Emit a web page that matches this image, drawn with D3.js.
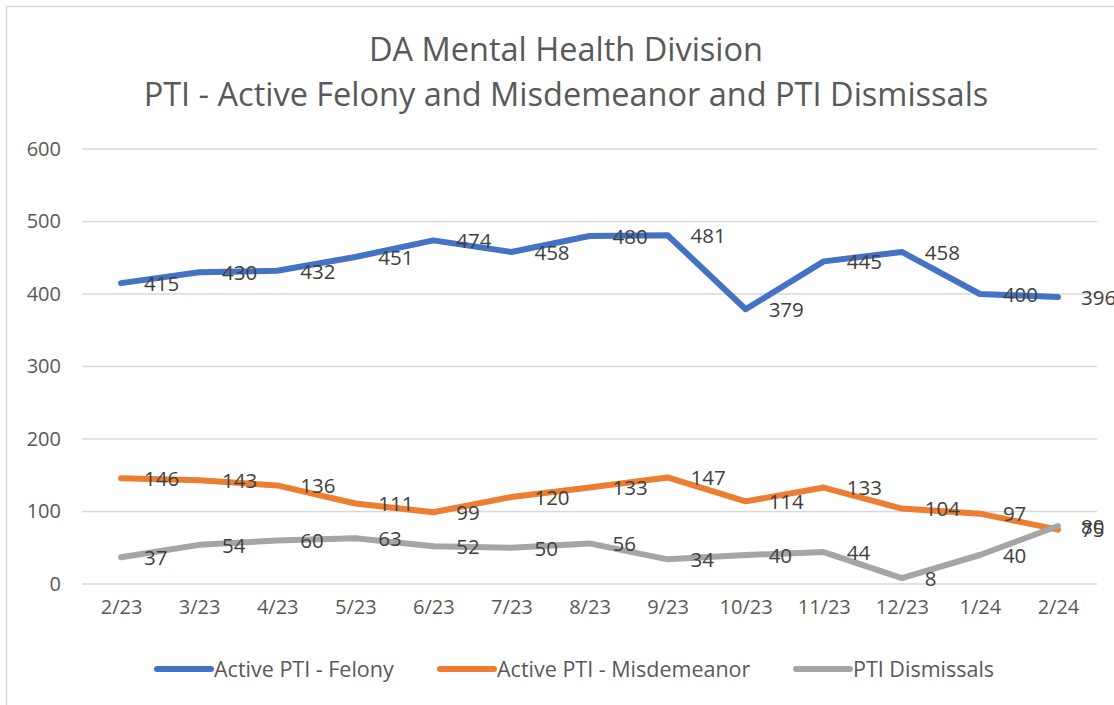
<!DOCTYPE html>
<html>
<head>
<meta charset="utf-8">
<script src="https://cdn.jsdelivr.net/npm/d3@7"></script>
<style>
  body { margin: 0; background: #fff; }
  text { font-family: "Open Sans", sans-serif; }
</style>
</head>
<body>
<script>
// chart data
const months = ["2/23", "3/23", "4/23", "5/23", "6/23", "7/23", "8/23", "9/23", "10/23", "11/23", "12/23", "1/24", "2/24"];
const felony = [415, 430, 432, 451, 474, 458, 480, 481, 379, 445, 458, 400, 396];
const misdemeanor = [146, 143, 136, 111, 99, 120, 133, 147, 114, 133, 104, 97, 75];
const dismissals = [37, 54, 60, 63, 52, 50, 56, 34, 40, 44, 8, 40, 80];
const seriesNames = ["Active PTI - Felony", "Active PTI - Misdemeanor", "PTI Dismissals"];
const yTicks = [0, 100, 200, 300, 400, 500, 600];

const width = 1114, height = 705;

let svg = d3.select("body").append("svg")
	.attr("width", width)
	.attr("height", height);

// chart area border (runs off the right / bottom edge)
svg.append("rect")
	.attr("x", 6.5).attr("y", 6.5)
	.attr("width", 1130).attr("height", 720)
	.attr("fill", "none")
	.attr("stroke", "#d9d9d9")
	.attr("stroke-width", 1.5);

let margin = {top: 149, left: 82, right: 17, bottom: 121};

let scaleX = d3.scalePoint()
	.domain(months)
	.range([margin.left, width - margin.right])
	.padding(0.5);

let scaleY = d3.scaleLinear()
	.domain([0, 600])
	.range([height - margin.bottom, margin.top]);

let colors = ["#4472C4", "#ED7D31", "#A5A5A5"];
let allSeries = [felony, misdemeanor, dismissals];

//title
let title = svg.append("text")
	.attr("text-anchor", "middle")
	.attr("fill", "#595959")
	.attr("font-size", 32.5);
title.append("tspan").attr("x", 566).attr("y", 61).text("DA Mental Health Division");
title.append("tspan").attr("x", 566).attr("y", 106).text("PTI - Active Felony and Misdemeanor and PTI Dismissals");

//gridlines
svg.append("g").selectAll("line")
	.data(yTicks)
	.enter().append("line")
		.attr("x1", margin.left)
		.attr("x2", width - margin.right)
		.attr("y1", d => scaleY(d))
		.attr("y2", d => scaleY(d))
		.attr("stroke", "#d9d9d9")
		.attr("stroke-width", 1.5);

//y axis labels
let yAxis = d3.axisLeft(scaleY)
	.tickValues(yTicks)
	.tickSize(0)
	.tickPadding(0);

let yG = svg.append("g")
	.attr("transform", "translate(61,0)")
	.call(yAxis);
yG.select(".domain").remove();
yG.selectAll("text")
	.attr("font-family", "Open Sans, sans-serif")
	.attr("font-size", 20)
	.attr("fill", "#595959");

//x axis labels
let xAxis = d3.axisBottom(scaleX)
	.tickSize(0)
	.tickPadding(0);

let xG = svg.append("g")
	.attr("transform", "translate(0,600)")
	.call(xAxis);
xG.select(".domain").remove();
xG.selectAll("text")
	.attr("font-family", "Open Sans, sans-serif")
	.attr("font-size", 20)
	.attr("fill", "#595959");

let line = d3.line()
	.x((d, i) => scaleX(months[i]))
	.y(d => scaleY(d));

//the three lines
svg.append("g").selectAll("path")
	.data(allSeries)
	.enter().append("path")
		.attr("fill", "none")
		.attr("stroke", (d, i) => colors[i])
		.attr("stroke-width", 6)
		.attr("stroke-linejoin", "round")
		.attr("stroke-linecap", "round")
		.attr("d", line);

//data labels, to the right of each point
allSeries.forEach(function(values) {
	svg.append("g").selectAll("text")
		.data(values)
		.enter().append("text")
			.attr("x", (d, i) => scaleX(months[i]) + 23)
			.attr("y", d => scaleY(d))
			.attr("dy", "0.38em")
			.attr("font-size", 20.5)
			.attr("fill", "#404040")
			.text(d => d);
});

//legend
let legendX = [157, 440, 796];
let legend = svg.append("g").selectAll("g")
	.data(seriesNames)
	.enter().append("g")
		.attr("transform", (d, i) => `translate(${legendX[i]}, 669)`);

legend.append("line")
	.attr("x1", 0).attr("x2", 54)
	.attr("stroke", (d, i) => colors[i])
	.attr("stroke-width", 6)
	.attr("stroke-linecap", "round");

legend.append("text")
	.attr("x", 57)
	.attr("dy", "0.36em")
	.attr("font-size", 21.5)
	.attr("fill", "#595959")
	.text(d => d);
</script>
</body>
</html>
